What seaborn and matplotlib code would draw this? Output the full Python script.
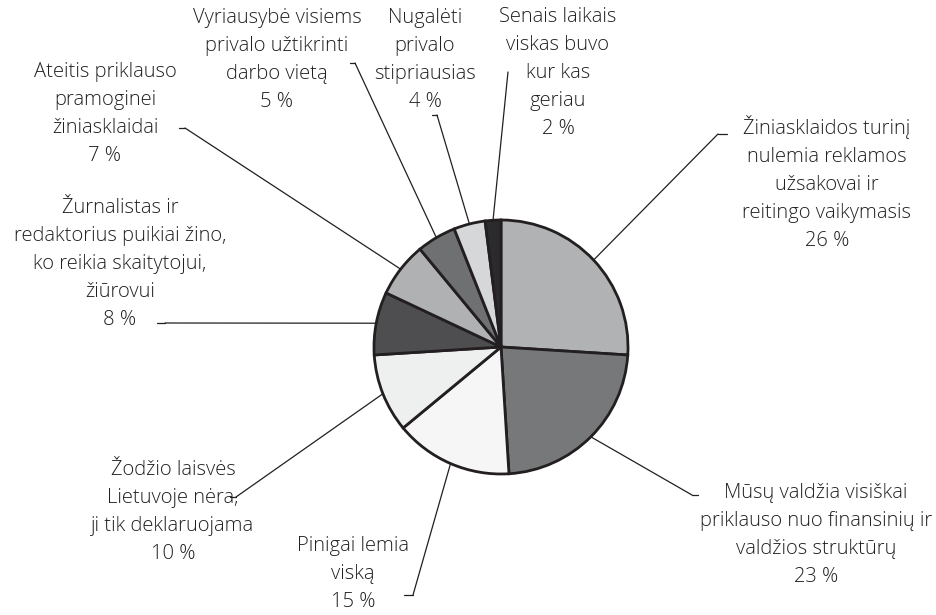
import numpy as np
import matplotlib
matplotlib.use("Agg")
import matplotlib.pyplot as plt
import seaborn as sns

# =========================
# DATA
# =========================
labels = [
    "Žiniasklaidos turinį\nnulemia reklamos\nužsakovai ir\nreitingo vaikymasis",
    "Mūsų valdžia visiškai\npriklauso nuo finansinių ir\nvaldžios struktūrų",
    "Pinigai lemia\nviską",
    "Žodžio laisvės\nLietuvoje nėra,\nji tik deklaruojama",
    "Žurnalistas ir\nredaktorius puikiai žino,\nko reikia skaitytojui,\nžiūrovui",
    "Ateitis priklauso\npramoginei\nžiniasklaidai",
    "Vyriausybė visiems\nprivalo užtikrinti\ndarbo vietą",
    "Nugalėti\nprivalo\nstipriausias",
    "Senais laikais\nviskas buvo\nkur kas\ngeriau",
]
values = [26, 23, 15, 10, 8, 7, 5, 4, 2]
colors = ["#b1b2b4", "#77787a", "#f6f6f6", "#eef0ef", "#4e4e50",
          "#b0b1b3", "#6f7072", "#d6d7d9", "#2b2a2c"]

# label block centres and connector anchors (pixels, y from top)
text_pos = [(827, 183), (816, 535), (353, 574), (173, 512), (120, 264),
            (105, 114), (277, 60), (425, 60), (558, 73)]
anchors = [(718, 134), (692, 495), (413, 595), (236, 497), (165, 323),
           (185, 128), (355, 63), (437, 115), (508, 72)]
ticks = [9, 6, -9, -6, -8, -6, -5, -5, 0]

# =========================
# PLOT
# =========================
sns.set_theme(style="white")
plt.rcParams["font.family"] = ["Open Sans", "DejaVu Sans"]

W, H = 937, 615
fig = plt.figure(figsize=(W / 100, H / 100), dpi=100)
ax = fig.add_axes([0, 0, 1, 1])

cx, cy, r = 501, H - 347, 127
wedges, _ = ax.pie(values, colors=colors, startangle=90, counterclock=False,
                   center=(cx, cy), radius=r, frame=True,
                   wedgeprops=dict(edgecolor="#231f20", linewidth=2))
ax.set_xlim(0, W)
ax.set_ylim(0, H)
ax.set_aspect("equal")
ax.axis("off")

ink = "#231f20"
for w, lab, v, (tx, ty), (axp, ayp), tk in zip(wedges, labels, values,
                                                text_pos, anchors, ticks):
    mid = np.deg2rad((w.theta1 + w.theta2) / 2)
    ex, ey = cx + r * np.cos(mid), cy + r * np.sin(mid)
    ax.plot([ex, axp], [ey, H - ayp], color=ink, lw=0.9)
    if tk:
        ax.plot([axp, axp + tk], [H - ayp, H - ayp], color=ink, lw=0.9)
    ax.text(tx, H - ty, f"{lab}\n{v} %", ha="center", va="center",
            multialignment="center", fontsize=14.5, fontweight="light",
            color=ink, linespacing=1.53)

fig.savefig("out.png", dpi=100)
